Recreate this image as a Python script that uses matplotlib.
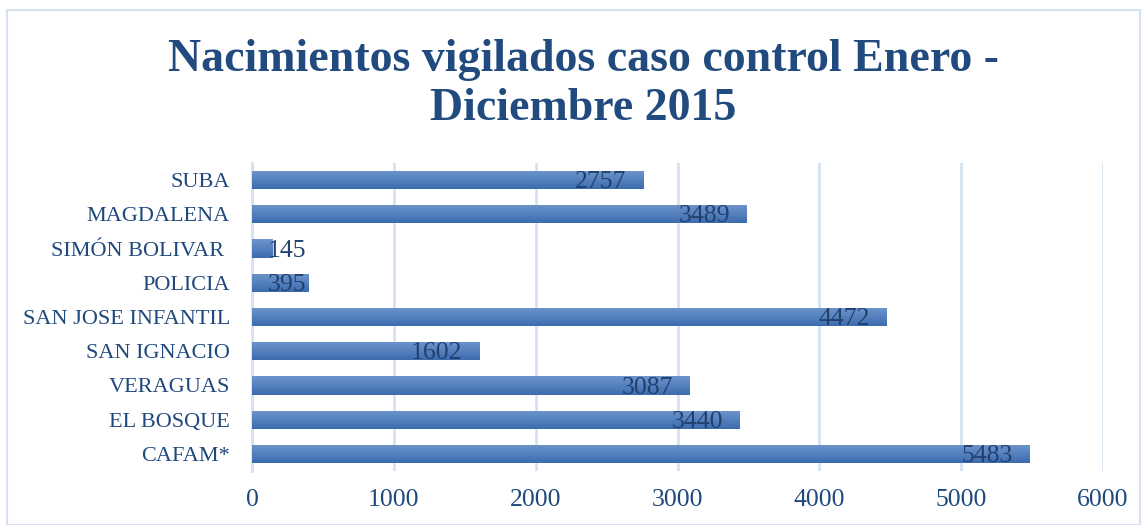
import numpy as np
import matplotlib.pyplot as plt
from matplotlib.patches import Rectangle
from matplotlib.colors import LinearSegmentedColormap

categories = ["CAFAM*", "EL BOSQUE", "VERAGUAS", "SAN IGNACIO", "SAN JOSE INFANTIL",
              "POLICIA", "SIMÓN BOLIVAR ", "MAGDALENA", "SUBA"]
values = [5483, 3440, 3087, 1602, 4472, 395, 145, 3489, 2757]
xticks = [0, 1000, 2000, 3000, 4000, 5000, 6000]

TITLE_COLOR = "#214B7F"
TEXT_COLOR = "#1F487C"
LABEL_COLOR = "#22406E"
GRID_COLOR = "#D6E2F1"
FONT = "Liberation Serif"

W, H = 1146, 525
fig = plt.figure(figsize=(W / 100, H / 100), dpi=100)

# marco del grafico
fig.patches.append(Rectangle((7 / W, 0), (1140 - 7) / W, 1 - 10 / H,
                             transform=fig.transFigure, fill=False,
                             edgecolor=GRID_COLOR, linewidth=1.5))

ax = fig.add_axes([252 / W, 1 - 471 / H, (1103 - 252) / W, (471 - 163) / H])

y = np.arange(len(categories))
bh = 0.53
bars = ax.barh(y, values, height=bh, color="#4F7FBF", zorder=2)

# degradado vertical en las barras (claro arriba, oscuro abajo)
grad = np.linspace(0, 1, 64).reshape(-1, 1)
cmap = LinearSegmentedColormap.from_list("g", ["#6E96CC", "#3C6CB0"])
for b in bars:
    x0, y0 = b.get_x(), b.get_y()
    im = ax.imshow(grad, extent=(x0, x0 + b.get_width(), y0, y0 + b.get_height()),
                   cmap=cmap, aspect="auto", zorder=3, origin="upper")
    im.set_clip_path(b)

ax.set_xlim(0, 6000)
ax.set_ylim(-0.5, len(categories) - 0.5)
ax.set_xticks(xticks)
ax.set_xticklabels([str(t) for t in xticks], fontfamily=FONT, fontsize=18.5, color=TEXT_COLOR)
ax.set_yticks(y)
ax.set_yticklabels(categories, fontfamily=FONT, fontsize=16, color=TEXT_COLOR)
ax.tick_params(axis="x", length=0, pad=13)
ax.tick_params(axis="y", length=0, pad=16)
ax.grid(axis="x", color=GRID_COLOR, linewidth=2, zorder=0)
ax.set_axisbelow(True)
for s in ["top", "right", "bottom"]:
    ax.spines[s].set_visible(False)
ax.spines["left"].set_color(GRID_COLOR)
ax.spines["left"].set_linewidth(2)

# etiquetas de datos (extremo interno, con margen; las cortas se pegan al eje)
for yi, v in zip(y, values):
    if v < 500:
        ax.annotate(str(v), (0, yi), xytext=(11.5, -1.5), textcoords="offset points",
                    ha="left", va="center", fontfamily=FONT, fontsize=18.5,
                    color=LABEL_COLOR, zorder=5)
    else:
        ax.annotate(str(v), (v, yi), xytext=(-12, -1.5), textcoords="offset points",
                    ha="right", va="center", fontfamily=FONT, fontsize=18.5,
                    color=LABEL_COLOR, zorder=5)

fig.text(0.509, 1 - 71 / H, "Nacimientos vigilados caso control Enero -",
         ha="center", va="baseline", fontfamily=FONT, fontweight="bold",
         fontsize=33, color=TITLE_COLOR)
fig.text(0.509, 1 - 120 / H, "Diciembre 2015",
         ha="center", va="baseline", fontfamily=FONT, fontweight="bold",
         fontsize=33, color=TITLE_COLOR)

fig.savefig("out.png", dpi=100)
